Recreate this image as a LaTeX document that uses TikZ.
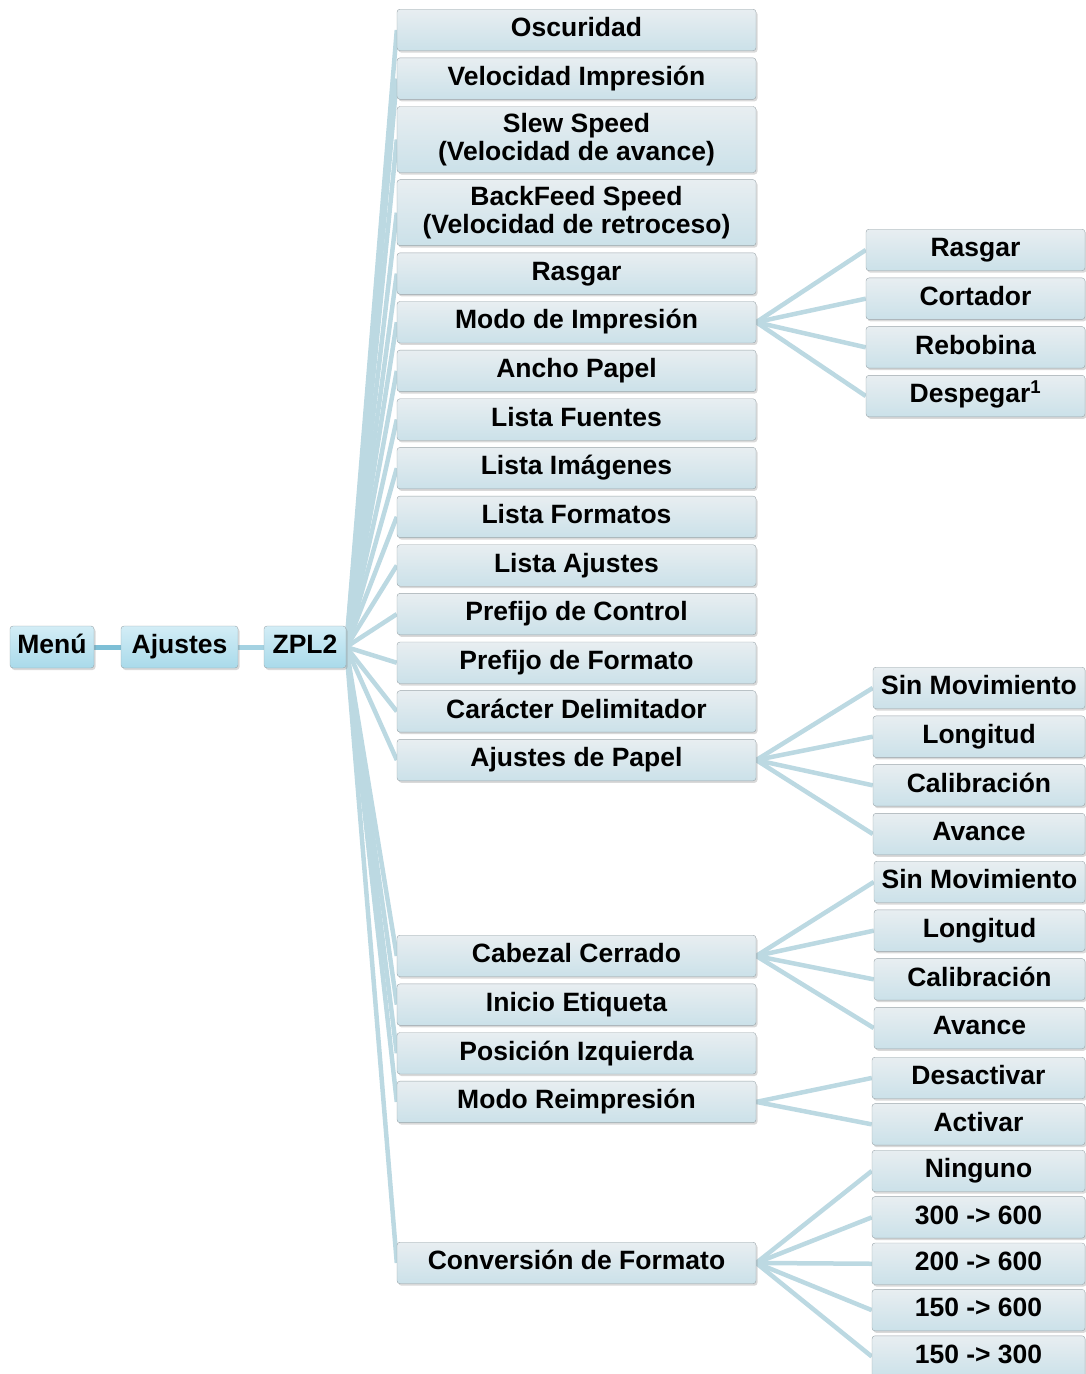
\documentclass[tikz,border=0pt]{standalone}
\usepackage{fontspec}
\setmainfont{Liberation Sans}
\usetikzlibrary{positioning,shadows,backgrounds}
\definecolor{boxtop}{HTML}{E8EEF1}
\definecolor{boxbot}{HTML}{CBE1E9}
\definecolor{roottop}{HTML}{D3EDF6}
\definecolor{rootbot}{HTML}{A9DAEA}
\definecolor{boxline}{HTML}{9AA5AA}
\definecolor{fanline}{HTML}{BCD9E2}
\definecolor{chainline}{HTML}{7DBFD6}

\begin{document}
\begin{tikzpicture}[x=1pt, y=-1pt, node distance=6.75pt, every node/.style={font=\fontsize{26.5}{28}\selectfont\bfseries}, item/.style={draw=boxline, rounded corners=3pt, top color=boxtop, bottom color=boxbot, drop shadow={shadow xshift=1.5pt, shadow yshift=-2pt, opacity=0.3}, align=center, minimum width=359pt, minimum height=41.5pt, inner sep=2pt, text height=19pt, text depth=5.5pt}, tall/.style={minimum height=66pt, text height=, text depth=}, root/.style={item, top color=roottop, bottom color=rootbot, minimum height=42pt}, sub/.style={item, minimum width=212pt}, fan/.style={draw=fanline, line width=4.5pt}, chain/.style={draw=chainline, line width=5pt}]
\useasboundingbox (0,0) rectangle (1086,1374);
% main chain
\node[root, minimum width=84pt] (menu) at (52,647) {Menú};
\node[root, minimum width=117pt] (ajustes) at (179.5,647) {Ajustes};
\node[root, minimum width=82pt] (zpl) at (305,647) {ZPL2};
% ZPL2 settings
\node[item, anchor=north] (oscuridad) at (576.5,9) {Oscuridad};
\node[item, below=of oscuridad] (velocidad) {Velocidad Impresión};
\node[item, tall, below=of velocidad] (slew) {Slew Speed\\(Velocidad de avance)};
\node[item, tall, below=of slew] (backfeed) {BackFeed Speed\\(Velocidad de retroceso)};
\node[item, below=of backfeed] (rasgar) {Rasgar};
\node[item, below=of rasgar] (modo) {Modo de Impresión};
\node[item, below=of modo] (ancho) {Ancho Papel};
\node[item, below=of ancho] (fuentes) {Lista Fuentes};
\node[item, below=of fuentes] (imagenes) {Lista Imágenes};
\node[item, below=of imagenes] (formatos) {Lista Formatos};
\node[item, below=of formatos] (listaaj) {Lista Ajustes};
\node[item, below=of listaaj] (control) {Prefijo de Control};
\node[item, below=of control] (prefijo) {Prefijo de Formato};
\node[item, below=of prefijo] (delim) {Carácter Delimitador};
\node[item, below=of delim] (papel) {Ajustes de Papel};
\node[item, anchor=north] (cabezal) at (576.5,935) {Cabezal Cerrado};
\node[item, below=of cabezal] (inicio) {Inicio Etiqueta};
\node[item, below=of inicio] (izq) {Posición Izquierda};
\node[item, below=of izq] (reimp) {Modo Reimpresión};
\node[item, anchor=north] (conversion) at (576.5,1242) {Conversión de Formato};
% Modo de Impresion options
\node[sub, minimum width=219pt, anchor=north] (mrasgar) at (975.5,229) {Rasgar};
\node[sub, minimum width=219pt, below=6.8pt of mrasgar] (mcortador) {Cortador};
\node[sub, minimum width=219pt, below=6.8pt of mcortador] (mrebobina) {Rebobina};
\node[sub, minimum width=219pt, below=6.8pt of mrebobina] (mdespegar) {Despegar\textsuperscript{1}};
% Ajustes de Papel options
\node[sub, anchor=north] (psin) at (979,667) {Sin Movimiento};
\node[sub, below=6.8pt of psin] (plong) {Longitud};
\node[sub, below=6.8pt of plong] (pcalib) {Calibración};
\node[sub, below=6.8pt of pcalib] (pavance) {Avance};
% Cabezal Cerrado options
\node[sub, minimum width=211pt, anchor=north] (csin) at (979.5,861) {Sin Movimiento};
\node[sub, minimum width=211pt, below=6.8pt of csin] (clong) {Longitud};
\node[sub, minimum width=211pt, below=6.8pt of clong] (ccalib) {Calibración};
\node[sub, minimum width=211pt, below=6.8pt of ccalib] (cavance) {Avance};
% Modo Reimpresion options
\node[sub, minimum width=213pt, anchor=north] (rdes) at (978.5,1057) {Desactivar};
\node[sub, minimum width=213pt, below=4.5pt of rdes] (ract) {Activar};
% Conversion de Formato options
\node[sub, minimum width=213pt, anchor=north] (fnin) at (978.5,1150) {Ninguno};
\node[sub, minimum width=213pt, below=4.5pt of fnin] (f300) {300 -> 600};
\node[sub, minimum width=213pt, below=4.5pt of f300] (f200) {200 -> 600};
\node[sub, minimum width=213pt, below=4.5pt of f200] (f150) {150 -> 600};
\node[sub, minimum width=213pt, below=4.5pt of f150] (f153) {150 -> 300};
\begin{pgfonlayer}{background}
\draw[chain] (menu) -- (ajustes);
\draw[chain, draw=chainline!70] (ajustes) -- (zpl);
\draw[fan] (zpl.east) -- (oscuridad.west);
\draw[fan] (zpl.east) -- (velocidad.west);
\draw[fan] (zpl.east) -- (slew.west);
\draw[fan] (zpl.east) -- (backfeed.west);
\draw[fan] (zpl.east) -- (rasgar.west);
\draw[fan] (zpl.east) -- (modo.west);
\draw[fan] (zpl.east) -- (ancho.west);
\draw[fan] (zpl.east) -- (fuentes.west);
\draw[fan] (zpl.east) -- (imagenes.west);
\draw[fan] (zpl.east) -- (formatos.west);
\draw[fan] (zpl.east) -- (listaaj.west);
\draw[fan] (zpl.east) -- (control.west);
\draw[fan] (zpl.east) -- (prefijo.west);
\draw[fan] (zpl.east) -- (delim.west);
\draw[fan] (zpl.east) -- (papel.west);
\draw[fan] (zpl.east) -- (cabezal.west);
\draw[fan] (zpl.east) -- (inicio.west);
\draw[fan] (zpl.east) -- (izq.west);
\draw[fan] (zpl.east) -- (reimp.west);
\draw[fan] (zpl.east) -- (conversion.west);
\draw[fan] (modo.east) -- (mrasgar.west);
\draw[fan] (modo.east) -- (mcortador.west);
\draw[fan] (modo.east) -- (mrebobina.west);
\draw[fan] (modo.east) -- (mdespegar.west);
\draw[fan] (papel.east) -- (psin.west);
\draw[fan] (papel.east) -- (plong.west);
\draw[fan] (papel.east) -- (pcalib.west);
\draw[fan] (papel.east) -- (pavance.west);
\draw[fan] (cabezal.east) -- (csin.west);
\draw[fan] (cabezal.east) -- (clong.west);
\draw[fan] (cabezal.east) -- (ccalib.west);
\draw[fan] (cabezal.east) -- (cavance.west);
\draw[fan] (reimp.east) -- (rdes.west);
\draw[fan] (reimp.east) -- (ract.west);
\draw[fan] (conversion.east) -- (fnin.west);
\draw[fan] (conversion.east) -- (f300.west);
\draw[fan] (conversion.east) -- (f200.west);
\draw[fan] (conversion.east) -- (f150.west);
\draw[fan] (conversion.east) -- (f153.west);
\end{pgfonlayer}
\end{tikzpicture}
\end{document}
